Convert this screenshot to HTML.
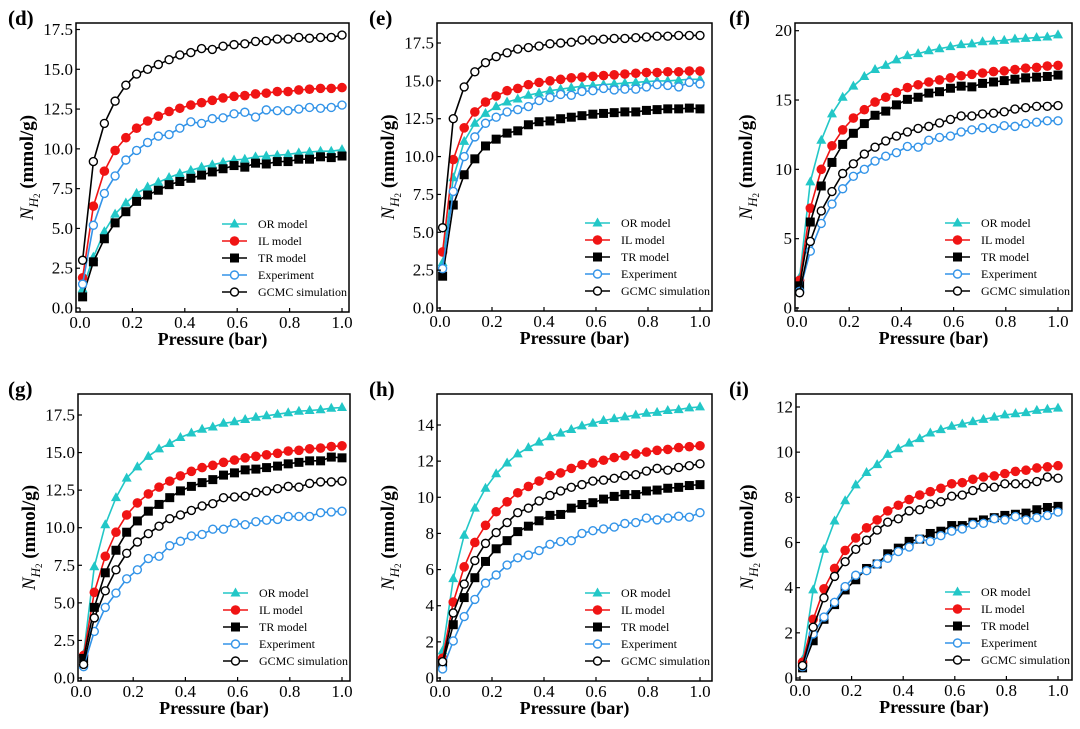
<!DOCTYPE html>
<html><head><meta charset="utf-8"><style>
html,body{margin:0;padding:0;background:#fff;}
svg{display:block;font-family:"Liberation Serif",serif;}
</style></head><body>
<svg id="fig" width="1080" height="729" viewBox="0 0 1080 729" xmlns="http://www.w3.org/2000/svg"></svg>
<script>
const pressure=[0.01,0.051,0.093,0.134,0.175,0.216,0.258,0.299,0.340,0.381,0.423,0.464,0.505,0.546,0.588,0.629,0.670,0.711,0.753,0.794,0.835,0.876,0.918,0.959,1.0];
const seriesNames=["OR model","IL model","TR model","Experiment","GCMC simulation"];
const panelLabels=["(d)","(e)","(f)","(g)","(h)","(i)"];
const yTicksD=[0,2.5,5,7.5,10,12.5,15,17.5];
const yTicksF=[0,5,10,15,20];
const yTicksH=[0,2,4,6,8,10,12,14];
const yTicksI=[0,2,4,6,8,10,12];
const xTicks=[0,0.2,0.4,0.6,0.8,1.0];
// panel d
const dOR=[1.2,3.2,4.8,5.9,6.6,7.2,7.6,7.9,8.2,8.45,8.65,8.85,9.0,9.15,9.3,9.35,9.5,9.55,9.6,9.65,9.75,9.8,9.85,9.85,9.95];
const dIL=[1.9,6.4,8.6,9.9,10.7,11.3,11.75,12.05,12.35,12.55,12.75,12.9,13.05,13.2,13.3,13.35,13.45,13.5,13.6,13.6,13.7,13.75,13.8,13.8,13.85];
const dTR=[0.7,2.9,4.35,5.35,6.05,6.7,7.1,7.4,7.75,7.95,8.15,8.35,8.55,8.75,8.95,8.85,9.1,9.05,9.2,9.2,9.35,9.35,9.5,9.45,9.55];
const dEXP=[1.5,5.2,7.2,8.3,9.3,9.9,10.4,10.8,10.9,11.3,11.7,11.6,11.9,11.95,12.2,12.3,12.0,12.45,12.4,12.4,12.5,12.6,12.55,12.6,12.75];
const dGC=[3.0,9.2,11.6,13.0,14.0,14.7,15.0,15.3,15.6,15.9,16.05,16.3,16.25,16.45,16.55,16.6,16.75,16.8,16.9,16.9,17.0,16.95,17.0,17.0,17.15];
// panel e
const eOR=[3.0,8.6,11.0,12.2,12.85,13.3,13.6,13.8,14.05,14.2,14.35,14.45,14.55,14.65,14.7,14.75,14.8,14.85,14.9,14.95,15.0,15.0,15.05,15.1,15.1];
const eIL=[3.7,9.8,11.9,12.95,13.6,14.0,14.35,14.5,14.75,14.9,15.0,15.1,15.2,15.25,15.3,15.35,15.4,15.45,15.5,15.55,15.55,15.6,15.6,15.65,15.65];
const eTR=[2.1,6.8,8.8,9.85,10.7,11.15,11.55,11.7,12.1,12.3,12.35,12.5,12.6,12.7,12.8,12.85,12.9,12.95,12.95,13.05,13.1,13.15,13.15,13.2,13.15];
const eEXP=[2.6,7.7,10.0,11.3,12.2,12.6,12.95,13.1,13.3,13.7,13.9,14.1,14.05,14.3,14.35,14.5,14.4,14.45,14.45,14.6,14.75,14.7,14.6,14.9,14.8];
const eGC=[5.3,12.5,14.6,15.6,16.2,16.6,16.85,17.1,17.2,17.3,17.45,17.5,17.55,17.7,17.7,17.75,17.8,17.8,17.85,17.9,17.95,17.95,18.0,18.0,18.0];
// panel f
const fOR=[2.2,9.1,12.1,14.0,15.2,16.0,16.7,17.2,17.5,17.9,18.2,18.35,18.55,18.7,18.85,19.0,19.05,19.2,19.25,19.3,19.4,19.45,19.5,19.55,19.7];
const fIL=[2.0,7.2,10.0,11.7,12.85,13.7,14.3,14.85,15.2,15.55,15.9,16.1,16.3,16.45,16.6,16.75,16.85,16.95,17.05,17.1,17.2,17.3,17.35,17.45,17.5];
const fTR=[1.6,6.2,8.8,10.5,11.8,12.6,13.3,13.9,14.2,14.65,15.05,15.2,15.5,15.6,15.85,16.0,15.95,16.2,16.3,16.4,16.5,16.6,16.65,16.7,16.8];
const fEXP=[1.2,4.1,6.1,7.5,8.6,9.5,10.0,10.6,10.95,11.2,11.65,11.6,12.1,12.3,12.4,12.7,12.85,13.0,12.95,13.15,13.1,13.3,13.4,13.5,13.5];
const fGC=[1.1,4.8,7.0,8.4,9.7,10.4,11.1,11.6,12.05,12.4,12.7,12.95,13.1,13.35,13.6,13.85,13.85,14.0,14.05,14.15,14.35,14.45,14.55,14.55,14.6];
// panel g
const gOR=[1.6,7.4,10.2,12.0,13.3,14.05,14.75,15.25,15.6,16.0,16.3,16.55,16.7,16.95,17.05,17.2,17.35,17.45,17.55,17.65,17.75,17.8,17.85,17.95,18.0];
const gIL=[1.5,5.7,8.1,9.7,10.85,11.65,12.25,12.7,13.1,13.45,13.75,14.0,14.15,14.35,14.5,14.65,14.75,14.85,14.95,15.1,15.15,15.25,15.3,15.4,15.45];
const gTR=[1.3,4.7,7.0,8.5,9.7,10.45,11.1,11.55,12.0,12.45,12.75,13.0,13.2,13.5,13.65,13.85,13.9,14.0,14.1,14.25,14.35,14.45,14.45,14.7,14.65];
const gEXP=[0.75,3.1,4.7,5.65,6.6,7.2,7.95,8.1,8.8,9.1,9.45,9.55,9.9,9.9,10.3,10.2,10.4,10.5,10.55,10.75,10.75,10.75,11.0,11.05,11.1];
const gGC=[0.9,4.0,5.8,7.2,8.3,9.05,9.6,10.1,10.6,10.85,11.15,11.45,11.6,12.0,12.05,12.1,12.35,12.45,12.6,12.75,12.7,12.95,13.05,13.05,13.1];
// panel h
const hOR=[1.5,5.5,7.9,9.4,10.5,11.3,11.9,12.4,12.75,13.05,13.35,13.55,13.75,13.95,14.1,14.25,14.35,14.45,14.55,14.65,14.7,14.8,14.85,14.95,15.0];
const hIL=[1.1,4.2,6.15,7.5,8.45,9.2,9.75,10.25,10.6,10.9,11.2,11.35,11.6,11.8,11.9,12.05,12.2,12.3,12.4,12.5,12.6,12.65,12.75,12.8,12.85];
const hTR=[0.8,2.95,4.45,5.55,6.45,7.15,7.6,8.1,8.4,8.7,9.0,9.05,9.4,9.6,9.7,9.9,10.05,10.15,10.15,10.35,10.4,10.5,10.55,10.65,10.7];
const hEXP=[0.5,2.05,3.4,4.35,5.25,5.7,6.25,6.65,6.8,7.05,7.4,7.55,7.6,8.0,8.15,8.25,8.35,8.55,8.6,8.85,8.75,8.85,8.95,8.9,9.15];
const hGC=[0.9,3.6,5.2,6.5,7.45,8.05,8.6,9.15,9.4,9.8,10.1,10.35,10.55,10.7,10.9,10.95,11.05,11.2,11.25,11.45,11.6,11.5,11.65,11.75,11.85];
// panel i
const iOR=[0.8,3.9,5.7,6.95,7.85,8.55,9.1,9.45,9.9,10.15,10.4,10.6,10.85,11.0,11.15,11.25,11.35,11.45,11.55,11.65,11.7,11.75,11.85,11.9,11.95];
const iIL=[0.7,2.6,3.95,4.85,5.65,6.2,6.65,7.0,7.4,7.65,7.9,8.1,8.25,8.4,8.6,8.65,8.8,8.9,8.95,9.05,9.15,9.2,9.3,9.35,9.4];
const iTR=[0.45,1.65,2.6,3.25,3.9,4.35,4.85,5.05,5.5,5.75,6.05,6.15,6.4,6.5,6.75,6.75,6.9,7.0,7.1,7.2,7.25,7.3,7.45,7.55,7.6];
const iEXP=[0.5,1.95,2.7,3.35,4.05,4.55,4.75,5.05,5.3,5.6,5.8,6.15,6.05,6.3,6.5,6.6,6.8,6.85,7.05,7.0,7.15,7.0,7.1,7.2,7.35];
const iGC=[0.55,2.25,3.55,4.5,5.15,5.7,6.1,6.55,6.9,7.05,7.4,7.45,7.7,7.8,8.05,8.1,8.3,8.45,8.45,8.6,8.6,8.6,8.7,8.9,8.85];

const panelSeries=[[dOR,dIL,dTR,dEXP,dGC],[eOR,eIL,eTR,eEXP,eGC],[fOR,fIL,fTR,fEXP,fGC],[gOR,gIL,gTR,gEXP,gGC],[hOR,hIL,hTR,hEXP,hGC],[iOR,iIL,iTR,iEXP,iGC]];
const panelYTicks=[yTicksD,yTicksD,yTicksF,yTicksD,yTicksH,yTicksI];
const panelYTickDec=[1,1,0,1,0,0];
const layout=[
 {fl:76,fr:349,ft:23,fb:312,x0:80,x1:342,y0:308,yv:17.5,yp:29.5,lx:8},
 {fl:437,fr:712,ft:23,fb:311,x0:440,x1:700,y0:308,yv:17.5,yp:43,lx:369},
 {fl:795,fr:1072,ft:23,fb:311,x0:797,x1:1058,y0:308,yv:20,yp:30.7,lx:729},
 {fl:78,fr:350,ft:394,fb:681,x0:81,x1:342,y0:678,yv:17.5,yp:415,lx:8},
 {fl:437,fr:712,ft:394,fb:681,x0:440,x1:700,y0:678,yv:14,yp:425,lx:369},
 {fl:796,fr:1072,ft:394,fb:680,x0:800,x1:1058,y0:678,yv:12,yp:407,lx:729}
];
const colors=["#22c7c7","#f01414","#000000","#3394e8","#000000"];
const NS="http://www.w3.org/2000/svg";
const svg=document.getElementById("fig");
function mk(tag,attrs,parent){const e=document.createElementNS(NS,tag);for(const k in attrs)e.setAttribute(k,attrs[k]);(parent||svg).appendChild(e);return e;}

function marker(g,s,cx,cy){
  let m;
  if(s===0){m=mk("polygon",{points:`${cx},${cy-5.5} ${cx-5},${cy+3.5} ${cx+5},${cy+3.5}`,fill:colors[0]},g);}
  else if(s===1){m=mk("circle",{cx:cx,cy:cy,r:4.8,fill:colors[1]},g);}
  else if(s===2){m=mk("rect",{x:cx-4.5,y:cy-4.5,width:9,height:9,fill:"#000"},g);}
  else if(s===3){m=mk("circle",{cx:cx,cy:cy,r:4,fill:"#fff",stroke:colors[3],"stroke-width":1.4},g);}
  else {m=mk("circle",{cx:cx,cy:cy,r:4,fill:"#fff",stroke:"#000","stroke-width":1.4},g);}
  return m;
}

layout.forEach((L,pi)=>{
  const xs=v=>L.x0+(L.x1-L.x0)*v;
  const ys=v=>L.y0-(L.y0-L.yp)*v/L.yv;
  const g=mk("g",{});
  
  
  const lab=mk("text",{x:L.lx,y:L.ft+2,"font-size":21,"font-weight":"bold"},g);
  lab.textContent=panelLabels[pi];
  
  
  panelSeries[pi].forEach((arr,s)=>{
    const sg=mk("g",{},g);
    
    
    const pts=arr.map((v,i)=>xs(pressure[i]).toFixed(1)+","+ys(v).toFixed(1)).join(" ");
    const pl=mk("polyline",{points:pts,fill:"none",stroke:colors[s],"stroke-width":1.6},sg);
    
    
    arr.forEach((v,i)=>{
      const m=marker(sg,s,xs(pressure[i]),ys(v));
      
      
    });
  });
  const fr=mk("rect",{x:L.fl,y:L.ft,width:L.fr-L.fl,height:L.fb-L.ft,fill:"none",stroke:"#000","stroke-width":1.5},g);
  
  
  xTicks.forEach(t=>{
    const x=xs(t);
    mk("line",{x1:x,y1:L.fb,x2:x,y2:L.fb-4,stroke:"#000","stroke-width":1.2},g);
    const tx=mk("text",{x:x,y:L.fb+16,"font-size":17,"text-anchor":"middle"},g);
    tx.textContent=t.toFixed(1);
    
    
  });
  panelYTicks[pi].forEach(t=>{
    const y=ys(t);
    mk("line",{x1:L.fl,y1:y,x2:L.fl+4,y2:y,stroke:"#000","stroke-width":1.2},g);
    const tx=mk("text",{x:L.fl-3,y:y+5.5,"font-size":17,"text-anchor":"end"},g);
    tx.textContent=t.toFixed(panelYTickDec[pi]);
    
    
  });
  const xt=mk("text",{x:(L.fl+L.fr)/2,y:L.fb+33,"font-size":18,"font-weight":"bold","text-anchor":"middle"},g);
  xt.textContent="Pressure (bar)";
  
  
  const cy=(L.ft+L.fb)/2, cx=L.fl-43;
  const yt=mk("text",{x:0,y:0,"font-size":19,"text-anchor":"middle",transform:`translate(${cx},${cy}) rotate(-90)`},g);
  yt.innerHTML='<tspan font-style="italic">N</tspan><tspan font-style="italic" font-size="13" dy="5">H</tspan><tspan font-size="9" dy="2">2</tspan><tspan dy="-7" font-weight="bold"> (mmol/g)</tspan>';
  
  
  const lg=mk("g",{},g);
  
  
  seriesNames.forEach((n,s)=>{
    const ly=L.fb-88+17*s, lx=L.fr-127;
    const e=mk("g",{},lg);
    
    
    mk("line",{x1:lx,y1:ly,x2:lx+25,y2:ly,stroke:colors[s],"stroke-width":1.6},e);
    marker(e,s,lx+12.5,ly);
    const t=mk("text",{x:lx+36,y:ly+4,"font-size":12},e);
    t.textContent=n;
  });
});
</script>
</body></html>
